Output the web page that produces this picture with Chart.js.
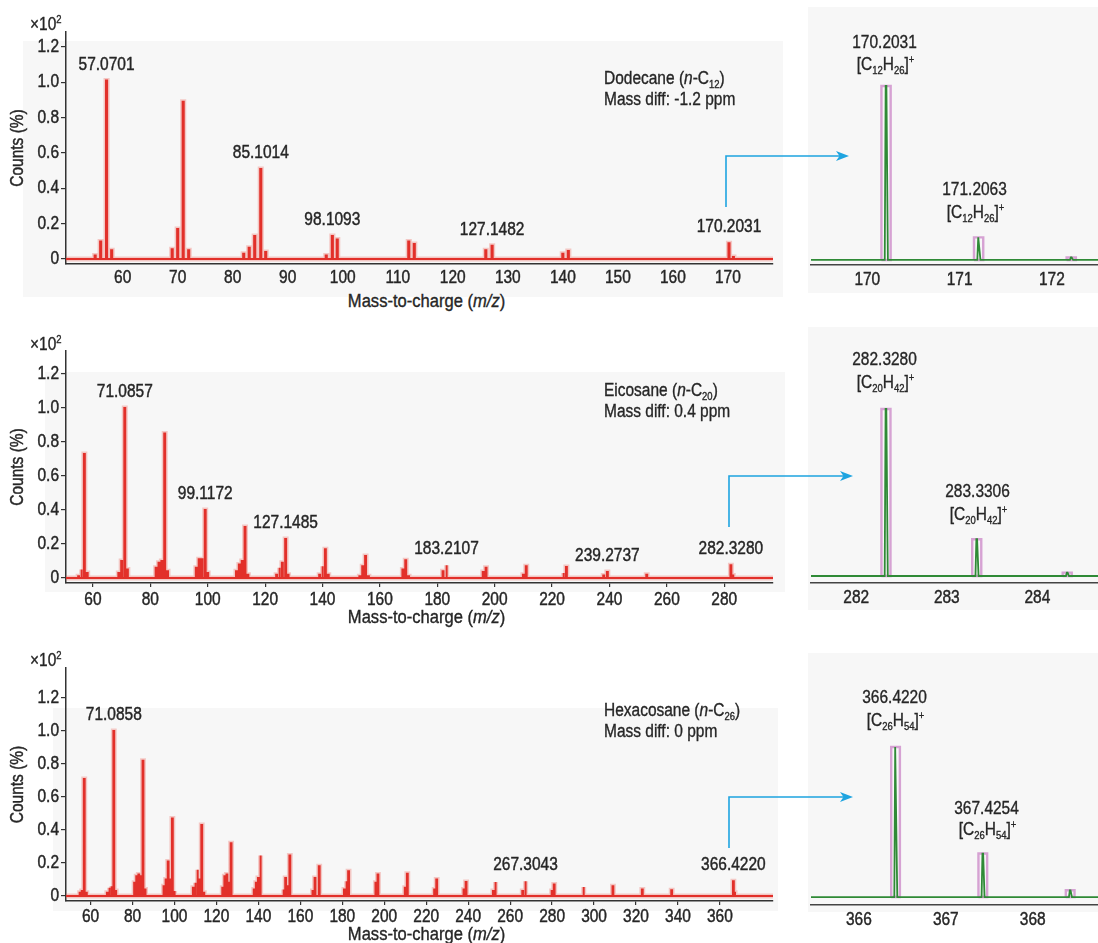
<!DOCTYPE html>
<html><head><meta charset="utf-8">
<script src="https://cdn.jsdelivr.net/npm/chart.js@4.4.1/dist/chart.umd.min.js"></script>
<style>
html,body{margin:0;padding:0}
body{width:1098px;height:943px;position:relative;overflow:hidden;background:#fff;color:#262626;font-family:"Liberation Sans",Arial,sans-serif;font-size:18px}
.bg{position:absolute;background:#f7f7f7}
.cv{position:absolute}
.cv canvas{display:block}
.t{position:absolute;white-space:nowrap;line-height:21px;-webkit-text-stroke:0.35px #262626}
.t .n{display:inline-block;transform:scaleX(0.86);transform-origin:0 50%}
.c{text-align:center;width:160px}
.c .n{transform-origin:50% 50%}
.xt .n{transform:scaleX(0.92)}
sub,sup{font-size:11px;line-height:0}
sub{vertical-align:-4px}
sup{vertical-align:7px}
svg{position:absolute;left:0;top:0}
</style></head><body>

<div class="bg" style="left:23px;top:41px;width:760px;height:256px"></div>
<div class="bg" style="left:45px;top:372px;width:740px;height:220px"></div>
<div class="bg" style="left:53px;top:708px;width:725px;height:203px"></div>
<div class="bg" style="left:808px;top:7px;width:290px;height:286px"></div>
<div class="bg" style="left:808px;top:327px;width:290px;height:283px"></div>
<div class="bg" style="left:808px;top:653px;width:290px;height:259px"></div>

<div class="cv" style="left:0;top:0"><canvas id="m1" width="780" height="290"></canvas></div>
<div class="cv" style="left:0;top:320px"><canvas id="m2" width="780" height="290"></canvas></div>
<div class="cv" style="left:0;top:640px"><canvas id="m3" width="780" height="290"></canvas></div>
<div class="cv" style="left:808px;top:0"><canvas id="i1" width="290" height="295"></canvas></div>
<div class="cv" style="left:808px;top:320px"><canvas id="i2" width="290" height="293"></canvas></div>
<div class="cv" style="left:808px;top:640px"><canvas id="i3" width="290" height="295"></canvas></div>

<div class="t" style="left:30px;top:14px"><span class="n">×10<sup>2</sup></span></div>
<div class="t" style="left:30px;top:334px"><span class="n">×10<sup>2</sup></span></div>
<div class="t" style="left:30px;top:650px"><span class="n">×10<sup>2</sup></span></div>

<div class="t" style="left:604px;top:68px"><span class="n">Dodecane (<i>n</i>-C<sub>12</sub>)<br>Mass diff: -1.2 ppm</span></div>
<div class="t" style="left:604px;top:380px"><span class="n">Eicosane (<i>n</i>-C<sub>20</sub>)<br>Mass diff: 0.4 ppm</span></div>
<div class="t" style="left:604px;top:700px"><span class="n">Hexacosane (<i>n</i>-C<sub>26</sub>)<br>Mass diff: 0 ppm</span></div>

<div class="t c xt" style="left:341px;top:291px"><span class="n">Mass-to-charge (<i>m/z</i>)</span></div>
<div class="t c xt" style="left:341px;top:607px"><span class="n">Mass-to-charge (<i>m/z</i>)</span></div>
<div class="t c xt" style="left:341px;top:924px"><span class="n">Mass-to-charge (<i>m/z</i>)</span></div>

<div class="t c" style="left:805px;top:32px"><span class="n">170.2031</span></div>
<div class="t c" style="left:805px;top:54px"><span class="n">[C<sub>12</sub>H<sub>26</sub>]<sup>+</sup></span></div>
<div class="t c" style="left:895px;top:179px"><span class="n">171.2063</span></div>
<div class="t c" style="left:895px;top:202px"><span class="n">[C<sub>12</sub>H<sub>26</sub>]<sup>+</sup></span></div>

<div class="t c" style="left:805px;top:349px"><span class="n">282.3280</span></div>
<div class="t c" style="left:805px;top:372px"><span class="n">[C<sub>20</sub>H<sub>42</sub>]<sup>+</sup></span></div>
<div class="t c" style="left:898px;top:481px"><span class="n">283.3306</span></div>
<div class="t c" style="left:898px;top:504px"><span class="n">[C<sub>20</sub>H<sub>42</sub>]<sup>+</sup></span></div>

<div class="t c" style="left:815px;top:687px"><span class="n">366.4220</span></div>
<div class="t c" style="left:815px;top:710px"><span class="n">[C<sub>26</sub>H<sub>54</sub>]<sup>+</sup></span></div>
<div class="t c" style="left:907px;top:798px"><span class="n">367.4254</span></div>
<div class="t c" style="left:907px;top:819px"><span class="n">[C<sub>26</sub>H<sub>54</sub>]<sup>+</sup></span></div>

<svg width="1098" height="943">
  <g fill="none" stroke="#1ea4e0" stroke-width="1.6">
    <polyline points="726,207 726,156 840,156"/>
    <polyline points="729,527 729,476 844,476"/>
    <polyline points="729,848 729,797 844,797"/>
  </g>
  <g fill="#1ea4e0">
    <polygon points="836,151 849,156 836,161 839.5,156"/>
    <polygon points="840,471 853,476 840,481 843.5,476"/>
    <polygon points="840,792 853,797 840,802 843.5,797"/>
  </g>
</svg>

<script>
// ---------- data ----------
const yTicks = [0, 0.2, 0.4, 0.6, 0.8, 1.0, 1.2];

// Dodecane (n-C12)
const c12Mz     = [55, 56, 57.0701, 58, 69, 70, 71, 72, 82, 83, 84, 85.1014, 86, 97, 98.1093, 99, 112, 113, 126, 127.1482, 140, 141, 170.2031, 171];
const c12Counts = [0.02, 0.10, 1.01, 0.05, 0.055, 0.17, 0.89, 0.05, 0.03, 0.064, 0.13, 0.51, 0.04, 0.02, 0.13, 0.11, 0.10, 0.085, 0.05, 0.075, 0.03, 0.045, 0.09, 0.012];
const c12Labels = [57.0701, 85.1014, 98.1093, 127.1482, 170.2031];
const c12XTicks = [60, 70, 80, 90, 100, 110, 120, 130, 140, 150, 160, 170];

// Eicosane (n-C20)
const c20Mz     = [55, 56, 57, 58, 69, 70, 71.0857, 72, 82, 83, 84, 85, 86, 96, 97, 98, 99.1172, 100, 110, 111, 112, 113, 114, 124, 125, 126, 127.1485, 128, 139, 140, 141, 142, 153, 154, 155, 156, 168, 169, 170, 182, 183.2107, 196, 197, 210, 211, 224, 225, 238, 239.2737, 253, 282.3280, 283];
const c20Counts = [0.01, 0.05, 0.73, 0.03, 0.03, 0.10, 1.00, 0.05, 0.06, 0.09, 0.10, 0.85, 0.04, 0.06, 0.11, 0.11, 0.40, 0.03, 0.04, 0.08, 0.10, 0.30, 0.02, 0.02, 0.06, 0.09, 0.23, 0.02, 0.02, 0.07, 0.17, 0.02, 0.01, 0.07, 0.13, 0.01, 0.05, 0.105, 0.01, 0.04, 0.075, 0.035, 0.06, 0.02, 0.07, 0.03, 0.065, 0.015, 0.035, 0.02, 0.075, 0.015];
const c20Labels = [71.0857, 99.1172, 127.1485, 183.2107, 239.2737, 282.3280];
const c20XTicks = [60, 80, 100, 120, 140, 160, 180, 200, 220, 240, 260, 280];

// Hexacosane (n-C26)
const c26Mz     = [55, 56, 57, 58, 68, 69, 70, 71.0858, 72, 81, 82, 83, 84, 85, 86, 95, 96, 97, 98, 99, 100, 109, 110, 111, 112, 113, 114, 123, 124, 125, 126, 127, 138, 139, 140, 141, 152, 153, 154, 155, 166, 167, 169, 181, 182, 183, 196, 197, 210, 211, 224, 225, 238, 239, 252, 253, 266, 267.3043, 280, 281, 295, 309, 323, 337, 366.4220, 367];
const c26Counts = [0.02, 0.03, 0.71, 0.02, 0.02, 0.05, 0.06, 1.00, 0.03, 0.08, 0.12, 0.13, 0.12, 0.82, 0.04, 0.06, 0.10, 0.21, 0.10, 0.47, 0.03, 0.05, 0.08, 0.16, 0.10, 0.43, 0.02, 0.05, 0.12, 0.13, 0.08, 0.32, 0.04, 0.08, 0.11, 0.245, 0.04, 0.11, 0.06, 0.245, 0.03, 0.11, 0.18, 0.04, 0.09, 0.15, 0.08, 0.13, 0.05, 0.135, 0.04, 0.10, 0.04, 0.085, 0.03, 0.085, 0.03, 0.09, 0.03, 0.07, 0.055, 0.06, 0.04, 0.035, 0.09, 0.02];
const c26Labels = [71.0858, 267.3043, 366.4220];
const c26XTicks = [60, 80, 100, 120, 140, 160, 180, 200, 220, 240, 260, 280, 300, 320, 340, 360];

// Molecular-ion isotope detail (relative abundance, %)
const c12IsoMz  = [170.2031, 171.2063, 172.21];
const c12IsoRel = [100, 13, 1.5];
const c12IsoTicks = [170, 171, 172];

const c20IsoMz  = [282.3280, 283.3306, 284.33];
const c20IsoRel = [100, 22, 2];
const c20IsoTicks = [282, 283, 284];

const c26IsoMz  = [366.4220, 367.4254, 368.43];
const c26IsoRel = [100, 29, 4.5];
const c26IsoTicks = [366, 367, 368];

// ---------- rendering ----------
const FONT = '"Liberation Sans",Arial,sans-serif';
const SX = 0.86;
const INK = '#262626';
Chart.defaults.font.family = FONT;
Chart.defaults.font.size = 18;
Chart.defaults.color = INK;

function narrowText(ctx, text, x, y, align, rotate) {
  ctx.save();
  ctx.translate(x, y);
  if (rotate) ctx.rotate(-Math.PI / 2);
  ctx.scale(SX, 1);
  ctx.textAlign = align;
  ctx.textBaseline = 'middle';
  ctx.lineWidth = 0.45;
  ctx.strokeStyle = INK;
  ctx.fillText(text, 0, 0);
  ctx.strokeText(text, 0, 0);
  ctx.restore();
}

// draws tick labels / titles with a condensed face, at positions taken from the chart's scales
function axisTextPlugin(opts) {
  return {
    id: 'axisText',
    afterDraw(chart) {
      const {ctx, scales: {x, y}, chartArea} = chart;
      ctx.save();
      ctx.font = '18px ' + FONT;
      ctx.fillStyle = INK;
      x.ticks.forEach(t => narrowText(ctx, String(t.value), x.getPixelForValue(t.value), x.top + opts.xLabelDy, 'center'));
      if (opts.yAxis) {
        y.ticks.forEach(t => narrowText(ctx, t.value === 0 ? '0' : t.value.toFixed(1), y.right - 7, y.getPixelForValue(t.value), 'right'));
        narrowText(ctx, 'Counts (%)', 18, (chartArea.top + chartArea.bottom) / 2, 'center', true);
      }
      ctx.restore();
    }
  };
}

function stickPoints(mz, counts, half, xmin, xmax) {
  const pts = [{x: xmin, y: 0}];
  mz.map((m, i) => [m, counts[i]]).sort((a, b) => a[0] - b[0]).forEach(([m, v]) => {
    pts.push({x: m - half, y: 0}, {x: m - half, y: v}, {x: m + half, y: v}, {x: m + half, y: 0});
  });
  pts.push({x: xmax, y: 0});
  return pts;
}

function mainChart(id, mz, counts, labels, xTicks, g) {
  const pts = stickPoints(mz, counts, g.half, g.xMin, g.xMax);
  const heightAt = m => { let best = 0, d = 1e9; mz.forEach((v, i) => { if (Math.abs(v - m) < d) { d = Math.abs(v - m); best = counts[i]; } }); return best; };
  const labelPlugin = {
    id: 'peakLabels',
    afterDatasetsDraw(chart) {
      const {ctx, scales: {x, y}} = chart;
      ctx.save();
      ctx.font = '18px ' + FONT;
      ctx.fillStyle = INK;
      labels.forEach(m => narrowText(ctx, m.toFixed(4), x.getPixelForValue(m), y.getPixelForValue(heightAt(m)) - 16, 'center'));
      ctx.restore();
    }
  };
  new Chart(document.getElementById(id), {
    type: 'line',
    data: {datasets: [
      {data: pts, borderColor: '#e2302a', borderWidth: 2, pointRadius: 0, tension: 0, order: 1},
      {data: pts, borderColor: 'rgba(236,100,90,0.32)', borderWidth: 5, pointRadius: 0, tension: 0, order: 2}
    ]},
    options: {
      responsive: false, animation: false, events: [], parsing: false,
      layout: {padding: {top: g.padTop, right: g.padRight, left: 0, bottom: 0}},
      plugins: {legend: {display: false}, tooltip: {enabled: false}},
      scales: {
        x: {
          type: 'linear', min: g.xMin, max: g.xMax,
          afterBuildTicks: s => { s.ticks = xTicks.map(v => ({value: v})); },
          afterFit: s => { s.height = g.axisH; },
          grid: {display: g.xTickMarks, drawOnChartArea: false, drawTicks: g.xTickMarks, tickLength: 4, color: '#333', lineWidth: 1.2},
          border: {display: true, color: '#333', width: 1.5},
          ticks: {display: false}
        },
        y: {
          type: 'linear', min: g.yMin, max: g.yMax,
          afterBuildTicks: s => { s.ticks = yTicks.map(v => ({value: v})); },
          afterFit: s => { s.width = 66; },
          grid: {display: true, drawOnChartArea: false, drawTicks: true, tickLength: 5, color: '#333', lineWidth: 1.2},
          border: {display: true, color: '#333', width: 1.5},
          ticks: {display: false}
        }
      }
    },
    plugins: [labelPlugin, axisTextPlugin({yAxis: true, xLabelDy: g.labelDy})]
  });
}

function insetChart(id, isoMz, isoRel, xTicks, g) {
  const boxes = [];
  isoMz.forEach((m, i) => {
    const h = isoRel[i];
    boxes.push({x: m - 0.05, y: 0}, {x: m - 0.05, y: h}, {x: m + 0.05, y: h}, {x: m + 0.05, y: 0}, {x: m - 0.05, y: 0}, {x: m + 0.06, y: null});
  });
  const trace = [{x: g.xMin - 0.1, y: 0}];
  isoMz.forEach((m, i) => {
    trace.push({x: m - 0.014, y: 0}, {x: m - 0.004, y: isoRel[i]}, {x: m + 0.004, y: isoRel[i]}, {x: m + 0.02, y: 0});
  });
  trace.push({x: g.xMax + 0.1, y: 0});
  new Chart(document.getElementById(id), {
    type: 'line',
    data: {datasets: [
      {data: trace, borderColor: '#2f8a36', borderWidth: 1.8, pointRadius: 0, tension: 0, order: 1},
      {data: boxes, borderColor: '#d6a2d3', borderWidth: 2.4, pointRadius: 0, tension: 0, spanGaps: false, order: 2}
    ]},
    options: {
      responsive: false, animation: false, events: [], parsing: false,
      layout: {padding: {top: g.padTop, right: 0, left: 3, bottom: 0}},
      plugins: {legend: {display: false}, tooltip: {enabled: false}},
      scales: {
        x: {
          type: 'linear', min: g.xMin, max: g.xMax,
          afterBuildTicks: s => { s.ticks = xTicks.map(v => ({value: v})); },
          afterFit: s => { s.height = 30; },
          grid: {display: false, drawTicks: false},
          border: {display: true, color: '#444', width: 1.5},
          ticks: {display: false}
        },
        y: {type: 'linear', display: false, min: g.yMin, max: g.yMax}
      }
    },
    plugins: [axisTextPlugin({yAxis: false, xLabelDy: 15})]
  });
}

mainChart('m1', c12Mz, c12Counts, c12Labels, c12XTicks, {xMin: 49.7, xMax: 178.2, yMin: -0.028, yMax: 1.285, half: 0.1, padTop: 32, padRight: 7, axisH: 26, labelDy: 14, xTickMarks: false});
mainChart('m2', c20Mz, c20Counts, c20Labels, c20XTicks, {xMin: 50.6, xMax: 297.0, yMin: -0.029, yMax: 1.335, half: 0.16, padTop: 31, padRight: 7, axisH: 27, labelDy: 17, xTickMarks: true});
mainChart('m3', c26Mz, c26Counts, c26Labels, c26XTicks, {xMin: 48.3, xMax: 385.3, yMin: -0.03, yMax: 1.382, half: 0.2, padTop: 28, padRight: 7, axisH: 29, labelDy: 16, xTickMarks: true});

insetChart('i1', c12IsoMz, c12IsoRel, c12IsoTicks, {xMin: 169.39, xMax: 172.5, yMin: -2.9, yMax: 143.7, padTop: 10});
insetChart('i2', c20IsoMz, c20IsoRel, c20IsoTicks, {xMin: 281.5, xMax: 284.67, yMin: -4.2, yMax: 147.3, padTop: 10});
insetChart('i3', c26IsoMz, c26IsoRel, c26IsoTicks, {xMin: 365.45, xMax: 368.75, yMin: -5.3, yMax: 161.3, padTop: 15});
</script>
</body></html>
